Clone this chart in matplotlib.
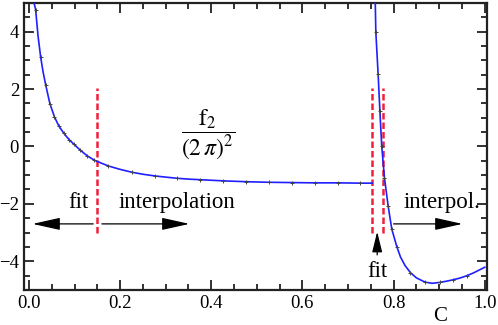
import matplotlib.pyplot as plt
from matplotlib.ticker import MultipleLocator

plt.rcParams['font.family'] = ['Liberation Serif', 'DejaVu Serif']
plt.rcParams['mathtext.fontset'] = 'stix'

# sampled points (markers) of f2/(2 pi)^2 vs C
pts_left_x = [0.0147, 0.0257, 0.0367, 0.046, 0.056, 0.066, 0.077, 0.088, 0.099,
              0.112, 0.128, 0.1436, 0.174, 0.226, 0.277, 0.325, 0.376, 0.426,
              0.477, 0.527, 0.577, 0.627, 0.677, 0.727]
pts_left_y = [4.77, 3.12, 2.15, 1.49, 1.03, 0.70, 0.45, 0.24, 0.07,
              -0.12, -0.33, -0.48, -0.68, -0.90, -1.03, -1.11, -1.16, -1.20,
              -1.23, -1.25, -1.26, -1.27, -1.27, -1.28]
pts_right_x = [0.761, 0.766, 0.770, 0.774, 0.780, 0.788, 0.796, 0.807, 0.837,
               0.869, 0.901, 0.930, 0.960]
pts_right_y = [3.99, 2.53, 1.22, 0.0, -1.1, -2.07, -2.88, -3.49, -4.40,
               -4.73, -4.74, -4.65, -4.51]

# interpolating curve, two branches
curve_left_x = [0.0112, 0.0147, 0.02, 0.0257, 0.031, 0.0367, 0.046, 0.056, 0.066,
                0.077, 0.088, 0.099, 0.112, 0.128, 0.1436, 0.16, 0.174, 0.2,
                0.226, 0.25, 0.277, 0.3, 0.325, 0.35, 0.376, 0.426, 0.477,
                0.527, 0.577, 0.627, 0.677, 0.727, 0.753]
curve_left_y = [5.0, 4.77, 3.85, 3.12, 2.6, 2.15, 1.49, 1.03, 0.70,
                0.45, 0.24, 0.07, -0.12, -0.33, -0.48, -0.59, -0.68, -0.80,
                -0.90, -0.97, -1.03, -1.07, -1.11, -1.14, -1.16, -1.20, -1.23,
                -1.25, -1.26, -1.27, -1.27, -1.28, -1.28]
curve_right_x = [0.7598, 0.761, 0.766, 0.770, 0.774, 0.780, 0.788, 0.796, 0.807,
                 0.815, 0.825, 0.837, 0.85, 0.869, 0.885, 0.901, 0.915, 0.930,
                 0.945, 0.960, 0.975, 0.99, 1.0]
curve_right_y = [5.0, 3.99, 2.53, 1.22, 0.0, -1.1, -2.07, -2.88, -3.49,
                 -3.85, -4.15, -4.40, -4.58, -4.73, -4.77, -4.74, -4.70, -4.65,
                 -4.59, -4.51, -4.41, -4.29, -4.21]

# boundaries between fit and interpolation regions
split_x = [0.15, 0.753, 0.776]

fig = plt.figure(figsize=(4.98, 3.25), dpi=100)
ax = fig.add_axes([0.048, 0.108, 0.930, 0.883])

for cx, cy in [(curve_left_x, curve_left_y), (curve_right_x, curve_right_y)]:
    ax.plot(cx, cy, color='#1f1fff', lw=1.2, zorder=3)
for px, py in [(pts_left_x, pts_left_y), (pts_right_x, pts_right_y)]:
    ax.plot(px, py, ls='none', marker='+', ms=2.5, mew=0.7, color='#444444', zorder=4)

for sx in split_x:
    ax.plot([sx, sx], [-3.02, 2.04], color='#f0203c', lw=1.8, ls=(0, (2.6, 1.2)), zorder=2)

def arrow(x0, y0, x1, y1, scale=38, hw=0.1):
    ax.annotate('', xy=(x1, y1), xytext=(x0, y0),
                arrowprops=dict(arrowstyle=f'-|>,head_length=0.45,head_width={hw}',
                                color='black', lw=0.9, mutation_scale=scale,
                                shrinkA=0, shrinkB=0))

arrow(0.141, -2.70, 0.008, -2.70)
arrow(0.160, -2.70, 0.352, -2.70)
arrow(0.800, -2.70, 0.951, -2.70)
arrow(0.764, -3.78, 0.764, -2.97, scale=28, hw=0.11)

fs = 16.5
ax.text(0.108, -1.97, 'fit', fontsize=fs, ha='center', va='center')
ax.text(0.325, -1.97, 'interpolation', fontsize=fs, ha='center', va='center')
ax.text(0.907, -1.97, 'interpol.', fontsize=fs, ha='center', va='center')
ax.text(0.764, -4.36, 'fit', fontsize=fs, ha='center', va='center')
ax.text(0.393, 0.41, r'$\dfrac{\mathrm{f}_2}{(2\,\pi)^2}$', fontsize=17,
        ha='center', va='center')

ax.set_xlim(-0.011, 1.005)
ax.set_ylim(-5, 5)
ax.xaxis.set_major_locator(MultipleLocator(0.2))
ax.xaxis.set_minor_locator(MultipleLocator(0.05))
ax.yaxis.set_major_locator(MultipleLocator(2))
ax.yaxis.set_minor_locator(MultipleLocator(0.5))
ax.xaxis.set_major_formatter(plt.FuncFormatter(lambda v, p: f'{v:.1f}'))
ax.tick_params(which='both', direction='in', top=True, right=True,
               labelsize=13.5, width=1.3, color='#222222')
ax.tick_params(which='major', length=7)
ax.tick_params(which='minor', length=4)
for s in ax.spines.values():
    s.set_linewidth(1.6)
    s.set_color('#222222')

ax.set_xlabel('C', fontsize=15)
ax.xaxis.set_label_coords(0.898, -0.058)

fig.savefig('out.png', dpi=100)
